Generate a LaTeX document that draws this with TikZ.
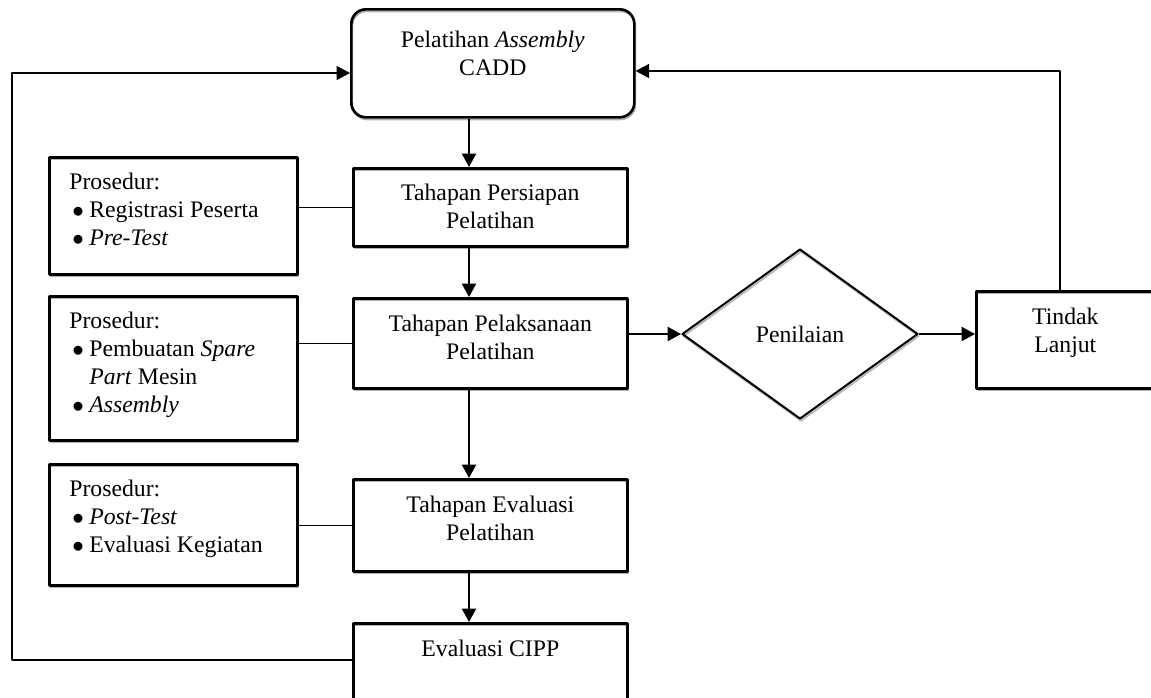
\documentclass[tikz,border=0pt]{standalone}
\usepackage{fontspec}
\setmainfont{Liberation Serif}
\usetikzlibrary{arrows.meta,shapes.geometric,shadows}
\newlength\upx
\setlength\upx{0.75pt}
\newcommand{\isian}[4]{\parbox[c][#2\upx][t]{#1\upx}{\centering\vspace*{#3\upx}#4}}
\newcommand{\prosedur}[3]{\parbox[c][#2\upx][t]{#1\upx}{\raggedright\leftskip=20\upx\relax\vspace*{16\upx}Prosedur:\\#3}}
\newcommand{\butir}{\hspace*{3\upx}\makebox[17\upx][l]{$\bullet$}}
\begin{document}
\begin{tikzpicture}[x=0.75pt, y=-0.75pt, line join=round, >={Triangle[length=10pt,width=10.5pt]}, font={\fontsize{17.8}{21}\selectfont},
		kotak/.style={draw, line width=2pt, inner sep=0pt, anchor=north west,
			drop shadow={shadow xshift=0.75pt, shadow yshift=-1.6pt, fill=none, draw=gray!60, opacity=1, line width=1.2pt}},
		panah/.style={->, line width=1.5pt},
		garis/.style={line width=1pt}]
	\useasboundingbox (0,0) rectangle (1151,697);
	\clip (0,0) rectangle (1151,697);
	\path
	(469,0) coordinate (jalur)
	(12,73) coordinate (kiriatas)
	(12,660) coordinate (kiribawah)
	(1060,71) coordinate (kananatas);
	% alur utama
	\node[kotak, rounded corners=11pt] (mulai) at (350,8) {\isian{283}{108}{21.5}{Pelatihan \textit{Assembly}\\CADD}};
	\node[kotak] (siap) at (352,167) {\isian{274}{78}{16}{Tahapan Persiapan\\Pelatihan}};
	\node[kotak] (laksana) at (352,297) {\isian{274}{90}{16.5}{Tahapan Pelaksanaan\\Pelatihan}};
	\node[kotak] (evalu) at (352,478) {\isian{274}{92}{16.5}{Tahapan Evaluasi\\Pelatihan}};
	\node[kotak] (cipp) at (352,622) {\isian{274}{100}{16.5}{Evaluasi CIPP}};
	% prosedur
	\node[kotak] (prosA) at (48,156) {\prosedur{248}{117}{\butir Registrasi Peserta\\\butir\textit{Pre-Test}}};
	\node[kotak] (prosB) at (48,295) {\prosedur{248}{144}{\butir Pembuatan \textit{Spare}\\\hspace*{20\upx}\textit{Part} Mesin\\\butir\textit{Assembly}}};
	\node[kotak] (prosC) at (48,463) {\prosedur{248}{121}{\butir\textit{Post-Test}\\\butir Evaluasi Kegiatan}};
	% penilaian
	\node[kotak, diamond, anchor=center, line width=1.5pt, minimum width=177pt, minimum height=127.5pt] (nilai) at (800,334) {Penilaian};
	\node[kotak] (tindak) at (975,290) {\isian{178}{97}{16.5}{Tindak\\Lanjut}};
	\foreach \a/\b in {mulai/siap, siap/laksana, laksana/evalu, evalu/cipp}
	\draw[panah] (\a.south -| jalur) -- (\b.north -| jalur);
	\foreach \p/\t in {prosA/siap, prosB/laksana, prosC/evalu}
	\draw[garis] (\p.east |- \t.west) -- (\t.west);
	\draw[panah] (laksana.east |- nilai.west) -- (nilai.west);
	\draw[panah] (nilai.east) -- (tindak.west |- nilai.east);
	\draw[panah, line width=1pt] (tindak.north -| kananatas) -- (kananatas) -- (mulai.east |- kananatas);
	\draw[panah, line width=1pt] (cipp.west |- kiribawah) -- (kiribawah) -- (kiriatas) -- (mulai.west |- kiriatas);
\end{tikzpicture}
\end{document}
